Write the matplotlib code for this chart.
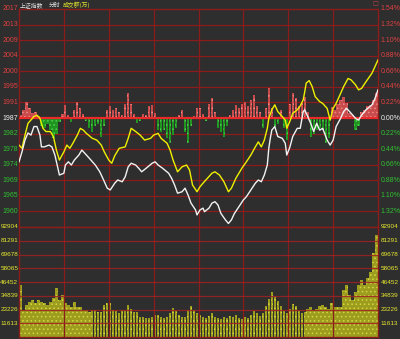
import matplotlib
matplotlib.use('Agg')
import matplotlib.pyplot as plt
from matplotlib import transforms
import numpy as np

# ---------------- data ----------------
prev_close = 1986.7
price_labels = ['2017', '2013', '2009', '2004', '2000', '1995', '1991', '1987',
                '1982', '1978', '1974', '1969', '1965', '1960']
pct_labels = ['1.54%', '1.32%', '1.10%', '0.88%', '0.66%', '0.44%', '0.22%', '0.00%',
              '0.22%', '0.44%', '0.66%', '0.88%', '1.10%', '1.32%']
vol_labels = ['11613', '23226', '34839', '46452', '58065', '69678', '81291', '92904']
vol_step = 11613

white_t = [0, 2, 4, 6, 8, 10, 12, 14, 15, 17, 20, 22, 24, 26, 27, 30, 31, 33, 35, 37,
           40, 42, 44, 47, 51, 54, 56, 59, 61, 64, 66, 69, 71, 73, 75, 78, 80, 82, 85, 89,
           91, 93, 96, 100, 102, 104, 106, 109, 111, 113, 115, 118, 119, 121, 123, 124, 127,
           129, 131, 133, 135, 138, 140, 142, 144, 147, 150, 152, 155, 158, 160, 162, 164,
           166, 167, 168, 169, 171, 173, 176, 178, 179, 181, 183, 186, 188, 190, 191, 193,
           195, 197, 199, 201, 203, 206, 208, 210, 212, 215, 217, 219, 221, 225, 227, 229,
           232, 236, 238, 240]
white_p = [1974.4, 1977.2, 1980.5, 1982.5, 1981.9, 1984.3, 1984.3, 1981.9, 1978.6, 1978.6,
           1979.1, 1978.6, 1976.3, 1972.6, 1970.7, 1971.2, 1973.5, 1974.4, 1973.5, 1974.9,
           1976.3, 1977.7, 1976.8, 1975.4, 1973.5, 1971.6, 1969.8, 1967.0, 1966.5, 1968.4,
           1969.3, 1968.8, 1970.2, 1973.0, 1974.0, 1973.5, 1972.6, 1971.6, 1972.6, 1974.0,
           1974.4, 1973.5, 1972.6, 1971.2, 1969.8, 1967.9, 1965.6, 1966.0, 1967.0, 1965.1,
           1962.8, 1960.9, 1959.5, 1960.9, 1961.4, 1960.4, 1961.4, 1962.8, 1963.2, 1962.3,
           1959.9, 1958.1, 1957.1, 1958.1, 1959.9, 1961.8, 1963.7, 1964.6, 1966.5, 1968.4,
           1969.3, 1968.8, 1970.7, 1973.5, 1978.2, 1981.0, 1983.3, 1984.3, 1981.5, 1981.0,
           1979.6, 1976.3, 1978.4, 1981.5, 1983.8, 1983.8, 1988.5, 1989.0, 1987.1, 1985.2,
           1982.9, 1985.2, 1983.3, 1983.8, 1980.5, 1979.1, 1980.5, 1984.3, 1986.6, 1988.5,
           1989.4, 1988.5, 1986.6, 1986.1, 1987.5, 1989.0, 1990.4, 1992.2, 1994.6]

yellow_t = [0, 2, 4, 6, 10, 12, 14, 16, 18, 21, 23, 25, 27, 30, 32, 34, 36, 39, 41, 43,
            45, 49, 52, 55, 57, 60, 62, 64, 67, 71, 73, 75, 78, 81, 84, 88, 90, 93, 95, 99,
            101, 103, 106, 109, 112, 114, 116, 119, 121, 123, 126, 129, 131, 134, 137, 140,
            142, 145, 149, 152, 155, 158, 160, 162, 164, 166, 167, 169, 171, 173, 176, 178,
            179, 181, 183, 186, 188, 190, 191, 192, 194, 196, 198, 201, 203, 206, 208, 210,
            212, 215, 217, 220, 222, 225, 227, 229, 232, 236, 240]
yellow_p = [1979.1, 1978.2, 1981.9, 1985.2, 1987.1, 1987.5, 1986.6, 1983.8, 1982.9, 1982.9,
            1981.5, 1977.7, 1974.9, 1977.2, 1979.1, 1978.2, 1979.6, 1981.9, 1983.8, 1983.3,
            1982.4, 1981.0, 1980.5, 1979.1, 1977.2, 1974.9, 1974.0, 1976.1, 1978.2, 1978.6,
            1981.0, 1983.8, 1982.9, 1981.9, 1980.5, 1981.0, 1981.9, 1982.4, 1981.0, 1979.6,
            1977.7, 1974.9, 1971.6, 1973.0, 1973.5, 1972.1, 1967.9, 1966.0, 1967.4, 1968.4,
            1969.8, 1971.2, 1971.6, 1970.7, 1968.8, 1966.0, 1967.0, 1969.8, 1972.6, 1974.4,
            1976.3, 1978.6, 1980.0, 1978.6, 1980.5, 1983.8, 1986.6, 1989.0, 1990.4, 1988.5,
            1987.1, 1986.1, 1983.8, 1985.7, 1988.0, 1989.0, 1990.1, 1991.8, 1994.0, 1996.5,
            1997.2, 1995.5, 1992.7, 1991.3, 1990.8, 1989.4, 1986.1, 1989.4, 1990.8, 1993.6,
            1995.5, 1997.8, 1997.4, 1996.0, 1994.6, 1995.0, 1996.9, 1999.3, 2003.0]

# buy/sell strength per 2-minute bin (positive = red, negative = green)
strength = [3, 8, 16, 10, 5, 6, 2, -8, -10, -6, -12, -20, -16, -4, 4, 13, 3, -4, 8, 16,
            10, 4, -3, -10, -14, -8, -6, -19, -8, 8, 12, 8, 10, 6, 3, 14, 25, 14, 4, -5,
            -3, 4, 3, 12, 13, 5, -12, -14, -12, -20, -25, -17, -10, 3, 8, -14, -25, -8, 2, 10,
            10, 4, -3, 14, 20, 6, -10, -14, -19, -8, 3, 8, 13, 10, 14, 16, 12, 18, 23, 12,
            6, -10, 10, 30, 10, -9, -6, 8, -10, -22, 14, 25, 20, 12, 15, 21, 6, -19, -16, -12,
            -10, -12, -25, -20, 11, 8, 14, 18, 21, 15, 5, 3, -12, -8, 6, 8, 12, 13, 18, 25]

# volume per 2-minute bin
volume = [43900, 22800, 27000, 29800, 31250, 28500, 31250, 29800, 28500, 27000,
          29800, 32700, 41400, 31250, 35500, 28500, 27000, 25600, 29800, 25600,
          25600, 22800, 22800, 21400, 22800, 22800, 21400, 21400, 27000, 28500,
          28500, 22800, 22000, 20000, 22800, 22800, 27000, 24000, 21400, 21400,
          17200, 17200, 15800, 15800, 16500, 18600, 18600, 17000, 15800, 17000,
          20000, 24200, 22000, 18600, 17200, 17200, 22800, 26000, 22800, 20000,
          19000, 17000, 16000, 18000, 20000, 17000, 16000, 15000, 17000, 16000,
          18000, 17000, 19000, 16000, 15000, 17000, 16000, 19000, 22000, 20000,
          18000, 20000, 26000, 32000, 38000, 35000, 30000, 26000, 22000, 20000,
          24000, 28000, 26000, 22000, 20000, 21000, 24000, 25000, 23000, 24000,
          26000, 27000, 25000, 24000, 28700, 25600, 25600, 25000, 40000, 43900,
          35500, 31250, 38300, 44000, 48100, 43900, 49600, 55200, 70700, 86100]

# ---------------- style ----------------
BG = '#2e2e2e'
GRID = '#8a1c1c'
ZERO = '#e82a2a'
RED_TXT = '#e04040'
GREEN_TXT = '#30c030'
YEL_TXT = '#e8e830'
plt.rcParams['hatch.linewidth'] = 0.6

W, H = 400, 339
fig = plt.figure(figsize=(W / 100, H / 100), dpi=100, facecolor=BG)

def box(x0, y0, x1, y1):
    return [x0 / W, 1 - y1 / H, (x1 - x0) / W, (y1 - y0) / H]

ax = fig.add_axes(box(19, 9, 378, 227))
axv = fig.add_axes(box(19, 227, 378, 337))
for a in (ax, axv):
    a.set_facecolor(BG)
    a.set_xlim(0, 240)
    a.set_xticks([])
    a.set_yticks([])
    for s in a.spines.values():
        s.set_color(GRID)
        s.set_linewidth(1.0)

step = prev_close * 0.0022
ax.set_ylim(prev_close - 7 * step, prev_close + 7 * step)

# grid price panel
for k in range(-6, 7):
    if k == 0:
        continue
    ax.axhline(prev_close + k * step, color=GRID, lw=0.9, zorder=1)
for tv in range(30, 240, 30):
    ax.axvline(tv, color=GRID, lw=0.9, zorder=1)
    axv.axvline(tv, color=GRID, lw=0.9, zorder=3)

# strength bars
bin_t = np.arange(len(strength)) * 2 + 1
st = np.array(strength, dtype=float)
scale = 0.28
ax.bar(bin_t[st > 0], st[st > 0] * scale, bottom=prev_close, width=1.5,
       color='#c84c4c', edgecolor='#f08a8a', hatch='....', zorder=2, linewidth=0)
ax.bar(bin_t[st < 0], st[st < 0] * scale, bottom=prev_close, width=1.5,
       color='#1f941f', edgecolor='#50d050', hatch='....', zorder=2, linewidth=0)
ax.axhline(prev_close, color=ZERO, lw=1.6, zorder=3)

ax.plot(white_t, white_p, color='#f2f2f2', lw=1.0, zorder=5)
ax.plot(yellow_t, yellow_p, color='#f0f000', lw=1.0, zorder=4)

# volume panel
axv.set_ylim(0, vol_step * 8)
axv.bar(bin_t, volume, width=1.6, color='#9c9c1e', edgecolor='#d6d640', hatch='....',
        linewidth=0, zorder=2)
for k in range(1, 8):
    axv.axhline(k * vol_step, color='#a02222', lw=0.9, alpha=0.85, zorder=3)

# labels
tl = transforms.blended_transform_factory(ax.transAxes, ax.transData)
for i, (pl, ql) in enumerate(zip(price_labels, pct_labels)):
    k = 7 - i
    y = prev_close + k * step
    c = RED_TXT if k > 0 else ('#f0f0f0' if k == 0 else GREEN_TXT)
    ax.text(-0.002, y, pl, transform=tl, ha='right', va='center', color=c,
            fontsize=5.0, family='Liberation Sans')
    ax.text(1.008, y, ql, transform=tl, ha='left', va='center', color=c,
            fontsize=5.0, family='Liberation Sans')

tv_ = transforms.blended_transform_factory(axv.transAxes, axv.transData)
for k, vl in enumerate(vol_labels, start=1):
    axv.text(-0.002, k * vol_step, vl, transform=tv_, ha='right', va='center',
             color=YEL_TXT, fontsize=4.6, family='Liberation Sans')
    axv.text(1.008, k * vol_step, vl, transform=tv_, ha='left', va='center',
             color=YEL_TXT, fontsize=4.6, family='Liberation Sans')

cjk = ['Noto Sans CJK SC', 'DejaVu Sans']
fig.text(20 / W, 1 - 5 / H, '上证指数', color='#e6e6e6', fontsize=4.2, family=cjk,
         ha='left', va='center')
fig.text(49 / W, 1 - 5 / H, '分时', color='#e6e6e6', fontsize=4.2, family=cjk,
         ha='left', va='center')
fig.text(63 / W, 1 - 5 / H, '成交额(万)', color=YEL_TXT, fontsize=4.2, family=cjk,
         ha='left', va='center')
fig.text(375 / W, 1 - 4 / H, '□', color='#c04040', fontsize=4.5, family='DejaVu Sans',
         ha='center', va='center')

fig.savefig('out.png', dpi=100, facecolor=BG)
